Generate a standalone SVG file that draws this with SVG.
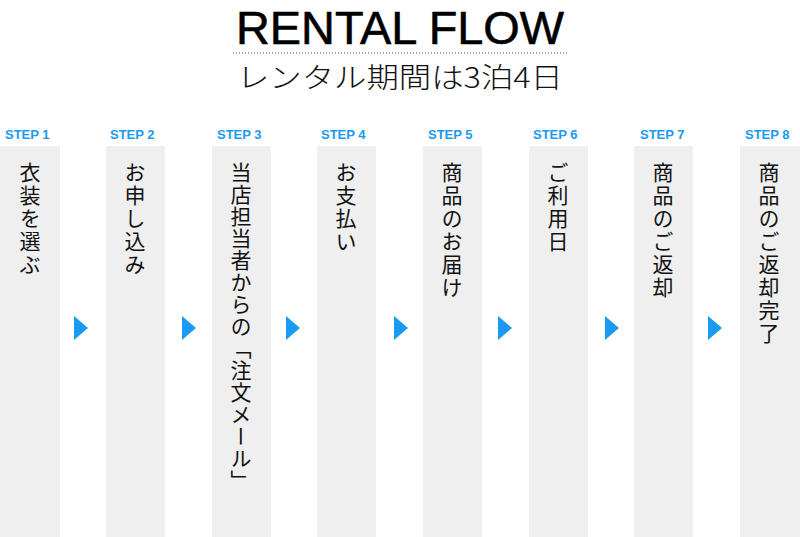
<svg xmlns="http://www.w3.org/2000/svg" width="800" height="537" viewBox="0 0 800 537">
<style>
.col{fill:#efefef}
.step{font-family:"Liberation Sans",Arial,sans-serif;font-weight:bold;font-size:13px;fill:#1a9af0}
.vt{font-family:"Noto Sans CJK JP",sans-serif;font-size:21px;fill:#111;writing-mode:vertical-rl;letter-spacing:2px}
.arr{fill:#1a9af0}
</style>
<rect width="800" height="537" fill="#fff"/>
<text x="400" y="44" text-anchor="middle" font-family="Liberation Sans,sans-serif" font-size="46" textLength="328" lengthAdjust="spacingAndGlyphs" fill="#000" stroke="#000" stroke-width="0.6">RENTAL FLOW</text>
<line x1="233" y1="53" x2="568" y2="53" stroke="#444" stroke-width="1" stroke-dasharray="1,2"/>
<text x="400" y="88" text-anchor="middle" font-family="Noto Sans CJK JP,sans-serif" font-weight="300" font-size="28" textLength="326" lengthAdjust="spacingAndGlyphs" fill="#111">レンタル期間は3泊4日</text>
<g id="step1"><text class="step" x="5" y="139">STEP 1</text><rect class="col" x="0" y="146" width="60" height="391"/><text class="vt" x="30" y="162">衣装を選ぶ</text></g>
<g id="step2"><text class="step" x="110" y="139">STEP 2</text><rect class="col" x="106" y="146" width="59" height="391"/><text class="vt" x="135" y="162">お申し込み</text></g>
<g id="step3"><text class="step" x="217" y="139">STEP 3</text><rect class="col" x="212" y="146" width="59" height="391"/><text class="vt" x="241" y="162" style="letter-spacing:1px">当店担当者からの「注文メール」</text></g>
<g id="step4"><text class="step" x="321" y="139">STEP 4</text><rect class="col" x="317" y="146" width="59" height="391"/><text class="vt" x="346" y="162">お支払い</text></g>
<g id="step5"><text class="step" x="428" y="139">STEP 5</text><rect class="col" x="423" y="146" width="59" height="391"/><text class="vt" x="452" y="162">商品のお届け</text></g>
<g id="step6"><text class="step" x="533" y="139">STEP 6</text><rect class="col" x="529" y="146" width="59" height="391"/><text class="vt" x="558" y="162">ご利用日</text></g>
<g id="step7"><text class="step" x="640" y="139">STEP 7</text><rect class="col" x="634" y="146" width="59" height="391"/><text class="vt" x="663" y="162">商品のご返却</text></g>
<g id="step8"><text class="step" x="745" y="139">STEP 8</text><rect class="col" x="740" y="146" width="60" height="391"/><text class="vt" x="769" y="162">商品のご返却完了</text></g>
<g id="connectors">
<polygon class="arr" points="74,316 88,328 74,340"/>
<polygon class="arr" points="182,316 196,328 182,340"/>
<polygon class="arr" points="286,316 300,328 286,340"/>
<polygon class="arr" points="394,316 408,328 394,340"/>
<polygon class="arr" points="498,316 512,328 498,340"/>
<polygon class="arr" points="605,316 619,328 605,340"/>
<polygon class="arr" points="708,316 722,328 708,340"/>
</g>
</svg>
